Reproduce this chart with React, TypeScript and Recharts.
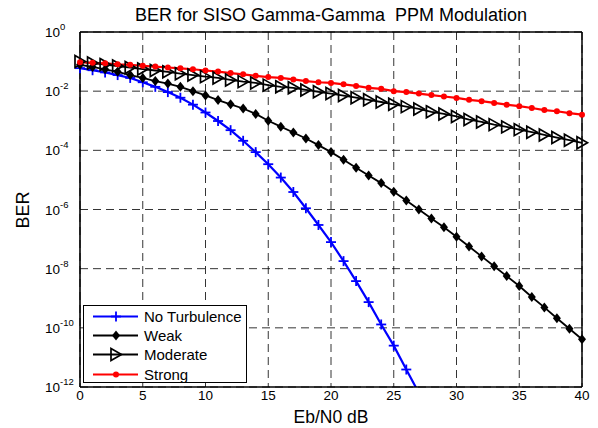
import { CartesianGrid, Line, LineChart, ReferenceLine, XAxis, YAxis } from "recharts";

const FONT = "'Liberation Sans', Arial, Helvetica, sans-serif";

// Eb/N0 in dB, one marker per dB
const ebN0 = [
  0, 1, 2, 3, 4, 5, 6, 7, 8, 9, 10, 11, 12, 13, 14, 15, 16, 17, 18, 19, 20,
  21, 22, 23, 24, 25, 26, 27, 28, 29, 30, 31, 32, 33, 34, 35, 36, 37, 38, 39, 40,
];
const xTicks = [0, 5, 10, 15, 20, 25, 30, 35, 40];
const yTicks = [1e-12, 1e-10, 1e-8, 1e-6, 1e-4, 1e-2, 1];

// BER (blue curve leaves the axes after ~26.7 dB)
const noTurbulence = [
  6.0e-2, 5.1e-2, 4.3e-2, 3.5e-2, 2.8e-2, 2.0e-2, 1.4e-2, 9.3e-3, 6.0e-3, 3.5e-3,
  1.9e-3, 9.8e-4, 4.8e-4, 2.1e-4, 8.7e-5, 3.4e-5, 1.2e-5, 3.9e-6, 1.1e-6, 3.0e-7,
  7.9e-8, 1.8e-8, 3.8e-9, 7.4e-10, 1.3e-10, 2.5e-11, 3.9e-12, 6.3e-13,
];
const weak = [
  7.8e-2, 6.6e-2, 5.5e-2, 4.5e-2, 3.5e-2, 2.8e-2, 2.2e-2, 1.8e-2, 1.4e-2, 1.0e-2,
  7.2e-3, 5.0e-3, 3.6e-3, 2.6e-3, 1.7e-3, 1.0e-3, 6.3e-4, 4.0e-4, 2.5e-4, 1.5e-4,
  8.7e-5, 4.8e-5, 2.6e-5, 1.4e-5, 7.8e-6, 4.0e-6, 2.0e-6, 1.0e-6, 5.0e-7, 2.5e-7,
  1.2e-7, 5.6e-8, 2.6e-8, 1.2e-8, 5.6e-9, 2.6e-9, 1.1e-9, 4.9e-10, 2.1e-10, 9.3e-11,
  4.1e-11,
];
const moderate = [
  1.0e-1, 8.9e-2, 7.9e-2, 7.1e-2, 6.3e-2, 5.6e-2, 5.0e-2, 4.5e-2, 3.9e-2, 3.5e-2,
  3.1e-2, 2.8e-2, 2.4e-2, 2.1e-2, 1.9e-2, 1.6e-2, 1.4e-2, 1.3e-2, 1.1e-2, 9.5e-3,
  8.3e-3, 7.1e-3, 6.0e-3, 5.1e-3, 4.3e-3, 3.6e-3, 3.0e-3, 2.5e-3, 2.0e-3, 1.7e-3,
  1.4e-3, 1.1e-3, 9.1e-4, 7.4e-4, 6.2e-4, 5.0e-4, 4.1e-4, 3.3e-4, 2.7e-4, 2.2e-4,
  1.8e-4,
];
const strong = [
  9.5e-2, 9.1e-2, 8.7e-2, 8.1e-2, 7.8e-2, 7.2e-2, 6.8e-2, 6.3e-2, 5.9e-2, 5.5e-2,
  5.0e-2, 4.6e-2, 4.1e-2, 3.7e-2, 3.3e-2, 3.0e-2, 2.8e-2, 2.5e-2, 2.2e-2, 2.0e-2,
  1.9e-2, 1.7e-2, 1.5e-2, 1.3e-2, 1.2e-2, 1.0e-2, 9.3e-3, 8.3e-3, 7.4e-3, 6.6e-3,
  5.9e-3, 5.1e-3, 4.6e-3, 4.0e-3, 3.5e-3, 3.1e-3, 2.7e-3, 2.3e-3, 2.1e-3, 1.8e-3,
  1.6e-3,
];

const data = ebN0.map((x, i) => ({
  x,
  noTurbulence: noTurbulence[i] ?? null,
  weak: weak[i],
  moderate: moderate[i],
  strong: strong[i],
}));

type Marker = "plus" | "diamond" | "triangle" | "dot";

function MarkerShape({ kind, cx, cy, color }: { kind: Marker; cx: number; cy: number; color: string }) {
  if (kind === "plus") {
    return (
      <g stroke={color} strokeWidth={1.8}>
        <line x1={cx - 5} y1={cy} x2={cx + 5} y2={cy} />
        <line x1={cx} y1={cy - 5} x2={cx} y2={cy + 5} />
      </g>
    );
  }
  if (kind === "diamond") {
    return <polygon points={`${cx},${cy - 5} ${cx + 4},${cy} ${cx},${cy + 5} ${cx - 4},${cy}`} fill={color} />;
  }
  if (kind === "triangle") {
    return (
      <polygon
        points={`${cx - 5},${cy - 6} ${cx + 5.5},${cy} ${cx - 5},${cy + 6}`}
        fill="none"
        stroke={color}
        strokeWidth={1.7}
        strokeLinejoin="miter"
      />
    );
  }
  return <circle cx={cx} cy={cy} r={3} fill={color} />;
}

function dotRenderer(kind: Marker, color: string) {
  return (props: any) => {
    const { cx, cy, index, value } = props;
    if (cx == null || cy == null || value == null) return <g key={`m-${kind}-${index}`} />;
    return (
      <g key={`m-${kind}-${index}`}>
        <MarkerShape kind={kind} cx={cx} cy={cy} color={color} />
      </g>
    );
  };
}

function PowerTick(props: any) {
  const { y, payload } = props;
  const exp = Math.round(Math.log10(payload.value));
  return (
    <text x={45} y={y} dy={5} fontSize={13.5} fill="#000" fontFamily={FONT}>
      10
      <tspan dy={-7} fontSize={9.5}>
        {exp}
      </tspan>
    </text>
  );
}

const legendItems: { name: string; color: string; marker: Marker }[] = [
  { name: "No Turbulence", color: "#0000ff", marker: "plus" },
  { name: "Weak", color: "#000000", marker: "diamond" },
  { name: "Moderate", color: "#000000", marker: "triangle" },
  { name: "Strong", color: "#ff0000", marker: "dot" },
];

export default function App() {
  return (
    <div style={{ position: "absolute", left: 0, top: 0, width: 598, height: 428, background: "#fff", fontFamily: FONT }}>
      <div
        style={{
          position: "absolute",
          left: 80,
          width: 502,
          top: 5,
          textAlign: "center",
          fontSize: 18,
          lineHeight: "20px",
          whiteSpace: "pre",
          color: "#000",
        }}
      >
        {"BER for SISO Gamma-Gamma  PPM Modulation"}
      </div>
      <LineChart width={598} height={428} data={data} margin={{ top: 32, right: 16, left: 0, bottom: 0 }}>
        <CartesianGrid stroke="#000" strokeDasharray="8 5" strokeWidth={0.8} horizontalValues={yTicks} verticalValues={xTicks} />
        <XAxis
          dataKey="x"
          type="number"
          domain={[0, 40]}
          ticks={xTicks}
          height={41}
          tickSize={0}
          tickMargin={3}
          axisLine={{ stroke: "#000", strokeWidth: 1.6 }}
          tick={{ fontSize: 13.5, fill: "#000", fontFamily: FONT }}
          label={{
            content: () => (
              <text x={331} y={423} textAnchor="middle" fontSize={17.5} fill="#000" fontFamily={FONT}>
                Eb/N0 dB
              </text>
            ),
          }}
        />
        <YAxis
          type="number"
          scale="log"
          domain={[1e-12, 1]}
          allowDataOverflow
          ticks={yTicks}
          width={80}
          tickSize={0}
          tickMargin={0}
          axisLine={{ stroke: "#000", strokeWidth: 1.6 }}
          tick={<PowerTick />}
          label={{
            content: () => (
              <text
                x={29}
                y={210}
                transform="rotate(-90 29 210)"
                textAnchor="middle"
                fontSize={18}
                fill="#000"
                fontFamily={FONT}
              >
                BER
              </text>
            ),
          }}
        />
        <ReferenceLine y={1} stroke="#000" strokeWidth={1.5} />
        <ReferenceLine x={40} stroke="#000" strokeWidth={1.5} />
        <Line
          dataKey="noTurbulence"
          stroke="#0000ff"
          strokeWidth={2.2}
          dot={dotRenderer("plus", "#0000ff")}
          isAnimationActive={false}
          connectNulls={false}
        />
        <Line dataKey="weak" stroke="#000" strokeWidth={1.8} dot={dotRenderer("diamond", "#000")} isAnimationActive={false} />
        <Line
          dataKey="moderate"
          stroke="#000"
          strokeWidth={1.8}
          dot={dotRenderer("triangle", "#000")}
          isAnimationActive={false}
        />
        <Line dataKey="strong" stroke="#ff0000" strokeWidth={2.2} dot={dotRenderer("dot", "#ff0000")} isAnimationActive={false} />
      </LineChart>
      <div
        style={{
          position: "absolute",
          left: 83,
          top: 305,
          width: 164,
          height: 78,
          boxSizing: "border-box",
          border: "1.5px solid #000",
          background: "#fff",
          paddingTop: 1,
          fontSize: 15,
          color: "#000",
        }}
      >
        {legendItems.map((item) => (
          <div key={item.name} style={{ display: "flex", alignItems: "center", height: 19.2 }}>
            <svg width={60} height={19} style={{ flex: "none" }}>
              <line x1={9} y1={9.5} x2={54} y2={9.5} stroke={item.color} strokeWidth={2} />
              <MarkerShape kind={item.marker} cx={32} cy={9.5} color={item.color} />
            </svg>
            <span style={{ lineHeight: "19px" }}>{item.name}</span>
          </div>
        ))}
      </div>
    </div>
  );
}
